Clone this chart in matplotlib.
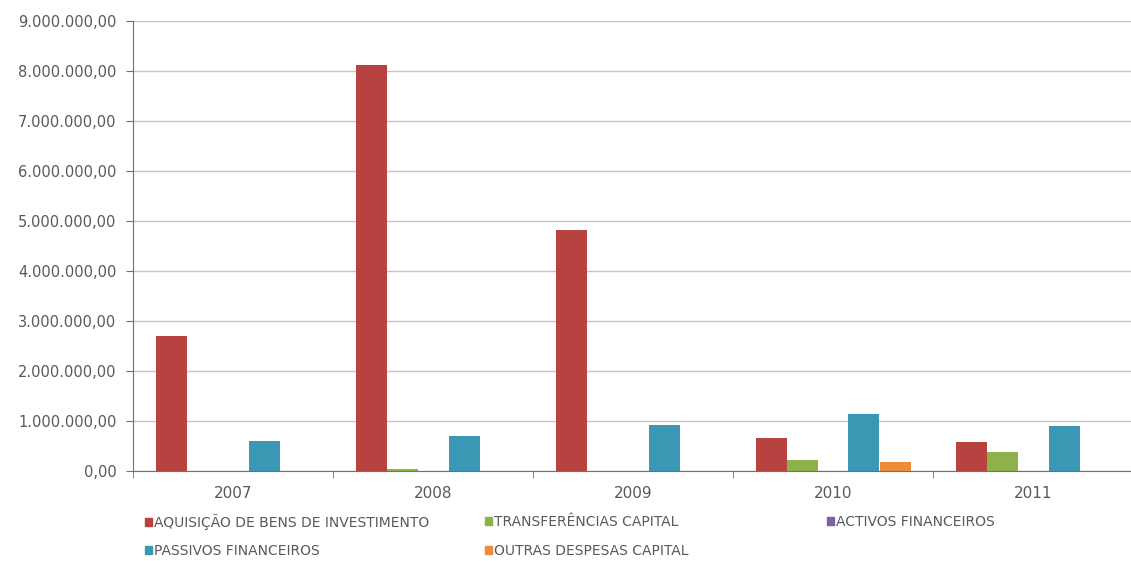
import matplotlib.pyplot as plt
import numpy as np
from matplotlib.ticker import FuncFormatter, MultipleLocator
from matplotlib.patches import Patch

# --- DADOS ---
anos = ["2007", "2008", "2009", "2010", "2011"]
series = ["AQUISIÇÃO DE BENS DE INVESTIMENTO", "TRANSFERÊNCIAS CAPITAL",
          "ACTIVOS FINANCEIROS", "PASSIVOS FINANCEIROS", "OUTRAS DESPESAS CAPITAL"]
aquisicao = [2700000, 8130000, 4830000, 670000, 580000]
transferencias = [0, 40000, 0, 230000, 390000]
activos = [0, 0, 0, 0, 0]
passivos = [600000, 700000, 920000, 1140000, 900000]
outras = [0, 0, 0, 190000, 0]
cores = ["#B8423F", "#8DB14B", "#7B62A0", "#3A98B4", "#EE8B3A"]
# -------------

valores = [aquisicao, transferencias, activos, passivos, outras]
cinza = "#595959"

fig = plt.figure(figsize=(11.31, 5.61), dpi=100)
ax = fig.add_axes([133 / 1131, 90 / 561, 1000 / 1131, 450 / 561])

x = np.arange(len(anos))
w = 0.155
for i, (vals, cor) in enumerate(zip(valores, cores)):
    ax.bar(x + (i - 2) * w, vals, width=w, color=cor, zorder=3)

ax.set_xlim(-0.5, len(anos) - 0.5)
ax.set_ylim(0, 9000000)
ax.yaxis.set_major_locator(MultipleLocator(1000000))


def fmt(v, pos):
    s = f"{v:,.2f}"
    return s.replace(",", "X").replace(".", ",").replace("X", ".")


ax.yaxis.set_major_formatter(FuncFormatter(fmt))
ax.grid(axis="y", color="#C4C4C4", linewidth=1, zorder=0)

ax.set_xticks(x)
ax.set_xticklabels(anos)
ax.set_xticks(np.arange(-0.5, len(anos)), minor=True)
ax.tick_params(axis="x", which="major", length=0, pad=11, labelsize=11)
ax.tick_params(axis="x", which="minor", length=5, color="#707070", direction="out")
ax.tick_params(axis="y", length=5, color="#707070", pad=7, labelsize=10.5)
ax.tick_params(labelcolor=cinza)

for s in ["top", "right"]:
    ax.spines[s].set_visible(False)
for s in ["left", "bottom"]:
    ax.spines[s].set_color("#707070")

# legenda manual: posições (px) de cada entrada
pos_leg = [(145, 522), (485, 522), (827, 522), (145, 551), (485, 551)]
for i, (px, py) in enumerate(pos_leg):
    fig.legend([Patch(color=cores[i])], [series[i]], loc="center left",
               bbox_to_anchor=(px / 1131, 1 - py / 561), frameon=False,
               fontsize=10, handlelength=0.5, handleheight=0.5,
               handletextpad=0.15, borderpad=0, borderaxespad=0,
               labelcolor=cinza)

plt.savefig("out.png", dpi=100)
